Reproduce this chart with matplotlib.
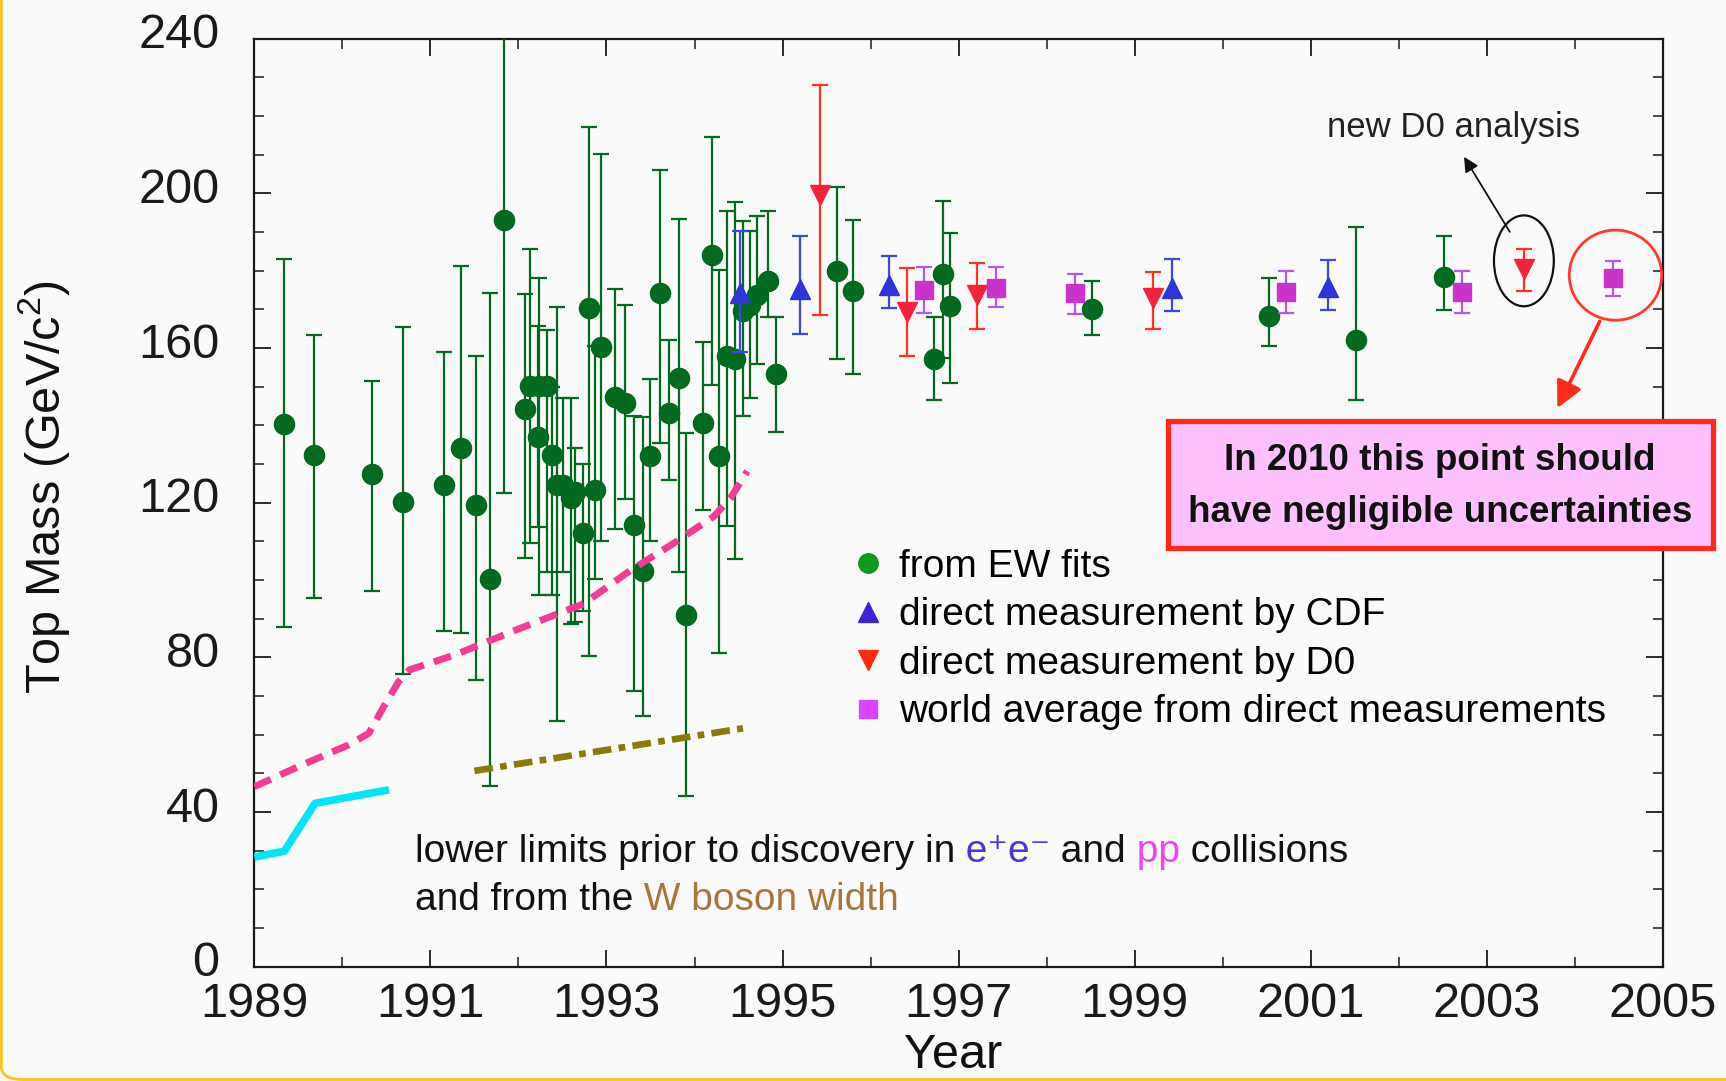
import matplotlib
matplotlib.use("Agg")
import matplotlib.pyplot as plt
from matplotlib import transforms
from matplotlib import font_manager as fm
from matplotlib.patches import Ellipse, Rectangle, FancyBboxPatch
from matplotlib.lines import Line2D
from matplotlib.ticker import FixedLocator

# ---------------- data ----------------
ew_year = [1989.34, 1989.68, 1990.34, 1990.69, 1991.16, 1991.35, 1991.52, 1991.68, 1991.84,
           1992.08, 1992.13, 1992.22, 1992.23, 1992.32, 1992.38, 1992.44, 1992.51, 1992.60,
           1992.64, 1992.73, 1992.80, 1992.87, 1992.94, 1993.10, 1993.21, 1993.31, 1993.42,
           1993.50, 1993.61, 1993.71, 1993.82, 1993.90, 1994.10, 1994.20, 1994.28, 1994.37,
           1994.46, 1994.55, 1994.63, 1994.71, 1994.84, 1994.93, 1995.62, 1995.80, 1996.72,
           1996.82, 1996.90, 1998.51, 2000.52, 2001.51, 2002.51]
ew_mass = [140.4, 132.4, 127.5, 120.1, 124.4, 134.2, 119.4, 100.1, 193.0,
           144.2, 150.1, 137.0, 150.1, 150.1, 132.2, 124.4, 124.4, 121.2,
           122.8, 112.1, 170.2, 123.3, 160.2, 147.2, 145.8, 114.2, 102.2,
           132.1, 174.2, 143.1, 152.3, 90.8, 140.5, 183.9, 132.1, 157.8,
           157.1, 169.4, 171.0, 173.7, 177.2, 153.3, 179.9, 174.8, 157.2,
           179.1, 170.8, 170.0, 168.3, 162.0, 178.2]
ew_hi = [183.1, 163.4, 151.5, 165.4, 158.9, 181.2, 157.8, 174.2, 265.0,
         174.0, 185.5, 165.6, 178.0, 164.6, 150.0, 170.6, 147.1, 147.1,
         134.2, 130.0, 217.1, 160.6, 210.2, 175.3, 171.0, 142.4, 142.0,
         152.0, 205.9, 162.1, 193.3, 138.1, 161.4, 214.4, 180.1, 195.4,
         197.8, 192.8, 190.3, 194.1, 195.5, 168.0, 201.6, 193.0, 168.0,
         197.9, 189.6, 177.3, 178.0, 191.3, 189.0]
ew_lo = [87.7, 95.4, 97.1, 75.7, 86.8, 86.3, 74.0, 46.8, 122.5,
         105.6, 109.4, 113.7, 96.0, 101.9, 96.0, 63.6, 101.9, 88.5,
         89.0, 92.0, 80.4, 100.3, 110.0, 113.1, 120.9, 71.3, 64.7,
         110.1, 135.3, 125.7, 101.9, 44.0, 118.0, 150.3, 81.0, 113.9,
         105.3, 142.3, 147.1, 155.7, 168.0, 138.3, 157.2, 153.2, 146.6,
         157.4, 150.9, 163.3, 160.6, 146.5, 169.8]

cdf_year = [1994.52, 1995.20, 1996.21, 1999.42, 2001.20]
cdf_mass = [174.2, 175.3, 176.2, 175.6, 175.8]
cdf_hi = [190.3, 189.0, 183.7, 182.9, 182.7]
cdf_lo = [158.9, 163.7, 170.2, 169.5, 169.7]

d0_year = [1995.42, 1996.41, 1997.21, 1999.21, 2003.42]
d0_mass = [199.5, 169.3, 173.7, 172.8, 180.5]
d0_hi = [228.0, 180.6, 181.9, 179.5, 185.5]
d0_lo = [168.6, 157.9, 164.8, 164.8, 174.8]

wa_year = [1996.61, 1997.42, 1998.32, 2000.72, 2002.72, 2004.43]
wa_mass = [175.0, 175.4, 174.1, 174.4, 174.4, 178.1]
wa_hi = [181.0, 181.0, 179.1, 180.0, 180.0, 182.5]
wa_lo = [169.1, 170.6, 168.7, 169.1, 169.1, 173.5]

ppbar_year = [1989.00, 1989.54, 1990.07, 1990.30, 1990.47, 1990.64, 1990.76, 1991.28,
              1991.98, 1992.74, 1993.27, 1993.76, 1994.22, 1994.41, 1994.60]
ppbar_mass = [46.5, 52.1, 57.3, 60.3, 67.2, 73.7, 76.7, 80.6,
              87.1, 93.8, 102.4, 109.4, 116.4, 121.2, 128.1]
ee_year = [1989.00, 1989.34, 1989.69, 1990.53]
ee_mass = [28.3, 29.8, 42.2, 45.7]
wwidth_year = [1991.50, 1993.00, 1994.55]
wwidth_mass = [50.6, 56.0, 61.6]

year_ticks = list(range(1989, 2006, 2))
year_minor = list(range(1990, 2005, 2))
mass_ticks = [0, 40, 80, 120, 160, 200, 240]
mass_minor = list(range(0, 241, 10))

legend_labels = ["from EW fits", "direct measurement by CDF",
                 "direct measurement by D0", "world average from direct measurements"]

# ---------------- fonts ----------------
names = {f.name for f in fm.fontManager.ttflist}
BASE = "Liberation Sans" if "Liberation Sans" in names else "DejaVu Sans"
NARROW = "Liberation Sans Narrow" if "Liberation Sans Narrow" in names else BASE
plt.rcParams["font.family"] = [BASE, "DejaVu Sans"]
plt.rcParams["mathtext.fontset"] = "custom"
plt.rcParams["mathtext.rm"] = BASE
plt.rcParams["mathtext.it"] = BASE + ":italic"
plt.rcParams["mathtext.bf"] = BASE + ":bold"

BG = "#fafafa"
W, H = 1726, 1081
fig = plt.figure(figsize=(W / 100, H / 100), dpi=100, facecolor=BG)

L, R, T, B = 254.3, 1663.0, 38.5, 966.5
ax = fig.add_axes([L / W, 1 - B / H, (R - L) / W, (B - T) / H])
ax.set_facecolor(BG)


def err(mass, hi, lo):
    return [[m - l for m, l in zip(mass, lo)], [h - m for m, h in zip(mass, hi)]]


GREEN = "#006a1f"
ax.errorbar(ew_year, ew_mass, yerr=err(ew_mass, ew_hi, ew_lo), fmt="o", ms=14.5,
            color=GREEN, ecolor=GREEN, elinewidth=1.6, capsize=6, capthick=1.6, zorder=3)

# lower limit lines
ax.plot(ee_year, ee_mass, color="#00e6f6", lw=5.5, solid_capstyle="butt", zorder=3.5)
ax.plot(ppbar_year, ppbar_mass, color="#f43c96", lw=5.0, dashes=(2.6, 1.5), zorder=3.5)
ax.plot(wwidth_year, wwidth_mass, color="#8a7a08", lw=4.8, dashes=(2.8, 1.1, 1.0, 1.1), zorder=3.5)

ax.errorbar(cdf_year, cdf_mass, yerr=err(cdf_mass, cdf_hi, cdf_lo), fmt="^", ms=14,
            color="#2d34d8", ecolor="#3a46e6", elinewidth=1.6, capsize=6, capthick=1.6, zorder=4)
ax.errorbar(d0_year, d0_mass, yerr=err(d0_mass, d0_hi, d0_lo), fmt="v", ms=14,
            color="#f5243c", ecolor="#ff3120", elinewidth=1.6, capsize=6, capthick=1.6, zorder=4)
ax.errorbar(wa_year, wa_mass, yerr=err(wa_mass, wa_hi, wa_lo), fmt="s", ms=12.5,
            color="#cc33cc", ecolor="#b257ea", elinewidth=1.6, capsize=6, capthick=1.6, zorder=4)

ax.set_xlim(1989, 2005)
ax.set_ylim(0, 240)
ax.xaxis.set_major_locator(FixedLocator(year_ticks))
ax.xaxis.set_minor_locator(FixedLocator(year_minor))
ax.yaxis.set_major_locator(FixedLocator(mass_ticks))
ax.yaxis.set_minor_locator(FixedLocator(mass_minor))
ax.set_xticklabels([str(y) for y in year_ticks])
ax.set_yticklabels([str(m) for m in mass_ticks])
ax.tick_params(which="both", direction="in", top=True, right=True, colors="#1a1a1a")
ax.tick_params(which="major", length=12, width=1.3, labelsize=35)
ax.tick_params(which="minor", length=7.5, width=1.1)
ax.tick_params(axis="x", which="major", pad=11)
ax.tick_params(axis="y", which="major", pad=25)
for lab in ax.get_yticklabels():
    lab.set_transform(lab.get_transform() +
                      transforms.ScaledTranslation(0, 5.5 / 72, fig.dpi_scale_trans))
for s in ax.spines.values():
    s.set_linewidth(1.6)
    s.set_color("#1a1a1a")

# axis labels
fig.text(44 / W, 1 - 487 / H, r"Top Mass (GeV/c$^{2}$)", rotation=90, ha="center",
         va="center", fontsize=35, color="#111111")
fig.text(953 / W, 1 - 1068 / H, "Year", ha="center", va="baseline", fontsize=35,
         color="#111111")

# legend
handles = [Line2D([], [], ls="none", marker="o", ms=14, color="#0a9a1c"),
           Line2D([], [], ls="none", marker="^", ms=14, color="#3a26d0"),
           Line2D([], [], ls="none", marker="v", ms=14, color="#ff2a10"),
           Line2D([], [], ls="none", marker="s", ms=13, color="#dd44ff")]
ax.legend(handles, legend_labels, loc="upper left",
          bbox_to_anchor=(852 / W, 1 - 549 / H), bbox_transform=fig.transFigure,
          frameon=False, fontsize=28, borderpad=0, borderaxespad=0, handlelength=0.8,
          handletextpad=0.4, labelspacing=0.32, handleheight=0.7)

# annotations
ax.add_patch(Ellipse((2003.42, 182.5), 0.68, 23.5, fill=False, ec="#111111", lw=1.6, zorder=5))
ax.add_patch(Ellipse((2004.46, 178.8), 1.05, 23.3, fill=False, ec="#ff3b30", lw=2.0, zorder=5))
ax.annotate("", xy=(2002.74, 209.4), xytext=(2003.26, 190.0),
            arrowprops=dict(arrowstyle="-|>", color="#111111", lw=1.3, mutation_scale=22,
                            shrinkA=0, shrinkB=0), zorder=5)
ax.annotate("", xy=(2003.80, 144.4), xytext=(2004.28, 166.8),
            arrowprops=dict(arrowstyle="-|>", color="#ff2a1a", lw=2.6, mutation_scale=40,
                            shrinkA=0, shrinkB=0), zorder=5)
fig.text(1454 / W, 1 - 127.7 / H, "new D0 analysis", ha="center", va="center",
         fontsize=25, color="#222222")

# red box
fig.add_artist(Rectangle((1167.5 / W, 1 - 547.5 / H), (1712.5 - 1167.5) / W, (547.5 - 421) / H,
                         transform=fig.transFigure, fc="#ffc0ff", ec="#ff2a1a", lw=3.8, zorder=6))
box_size = 31 if NARROW != BASE else 26.5
fig.text(1440 / W, 1 - 460 / H, "In 2010 this point should", ha="center", va="center",
         fontsize=box_size, fontweight="bold", family=[NARROW, "DejaVu Sans"],
         color="#111111", zorder=7)
fig.text(1440 / W, 1 - 513 / H, "have negligible uncertainties", ha="center", va="center",
         fontsize=box_size, fontweight="bold", family=[NARROW, "DejaVu Sans"],
         color="#111111", zorder=7)

# multi-coloured caption
renderer = fig.canvas.get_renderer()


def colored_line(x_px, y_px, pieces, size=28):
    xoff = 0.0
    for s, c in pieces:
        tr = transforms.offset_copy(fig.transFigure, fig=fig, x=xoff, y=0, units="dots")
        t = fig.text(x_px / W, 1 - y_px / H, s, color=c, fontsize=size, ha="left",
                     va="baseline", transform=tr, family=[BASE, "DejaVu Sans"])
        xoff += t.get_window_extent(renderer).width


colored_line(415, 862, [("lower limits prior to discovery in", "#111111"),
                        (" e\u207ae\u207b", "#4a35d8"),
                        (" and", "#111111"),
                        (" pp", "#ee44ee"),
                        (" collisions", "#111111")])
colored_line(415, 909.5, [("and from the", "#111111"),
                          (" W boson width", "#a8763c")])

# gold frame on the left edge
fig.add_artist(FancyBboxPatch((1.5 / W, 1.5 / H), 2.0, 2.0, transform=fig.transFigure,
                              boxstyle="round,pad=0,rounding_size=0.012", fill=False,
                              ec="#ffc21a", lw=2.0, zorder=0))

fig.savefig("out.png", dpi=100, facecolor=BG)
